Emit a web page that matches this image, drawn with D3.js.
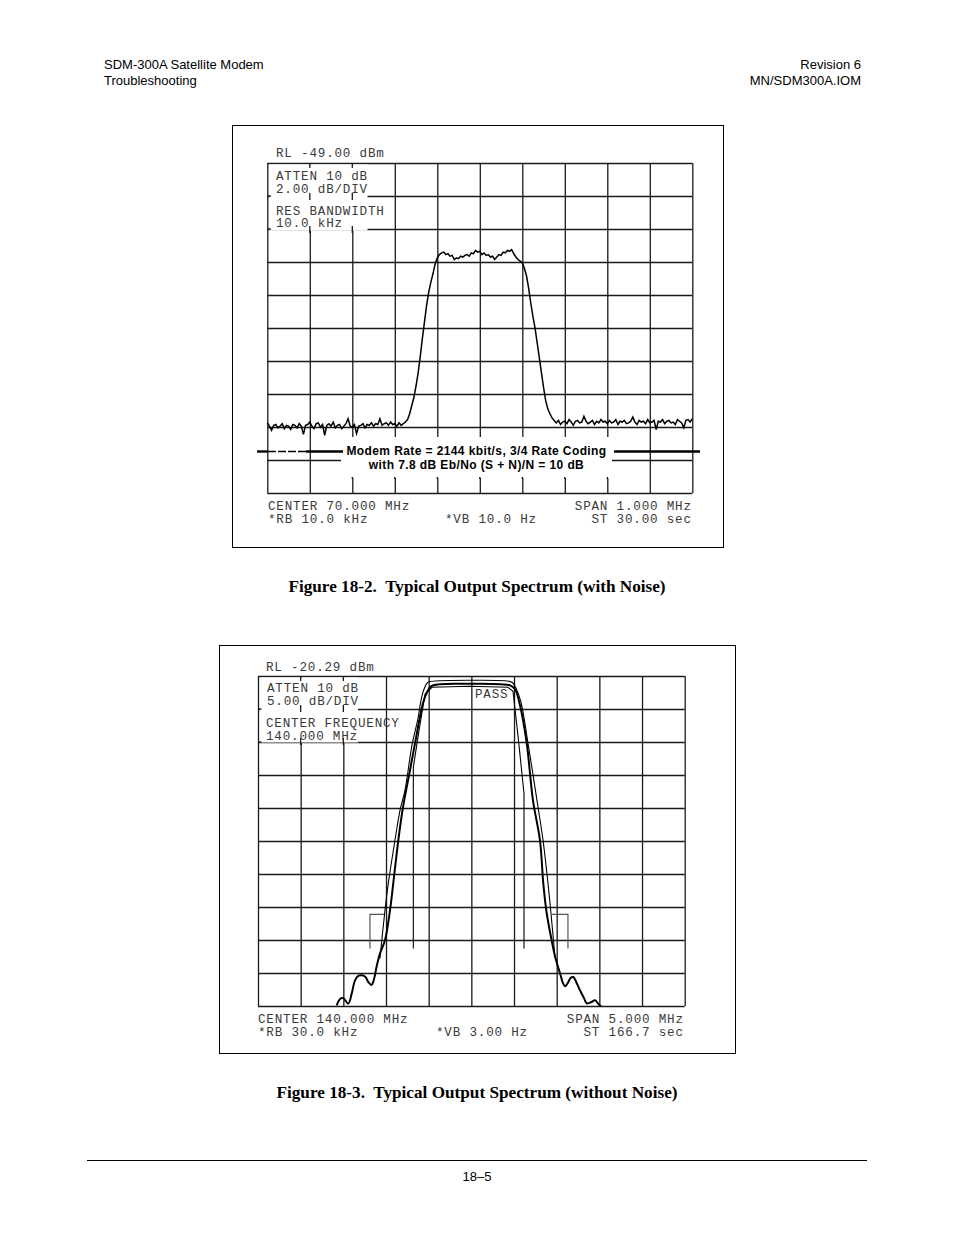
<!DOCTYPE html>
<html>
<head>
<meta charset="utf-8">
<script src="https://cdn.jsdelivr.net/npm/d3@7"></script>
<style>
  body { margin: 0; background: #fff; }
  svg { display: block; }
  .mono { font-family: "Liberation Mono", "Courier New", monospace; font-size: 12.6px; letter-spacing: 0.8px; fill: #3a3a3a; }
  .sans { font-family: "Liberation Sans", Arial, sans-serif; fill: #000; }
  .serif { font-family: "Liberation Serif", "Times New Roman", serif; font-weight: bold; fill: #000; }
</style>
</head>
<body>
<svg id="page" width="954" height="1235"></svg>
<script>
/***************************************************************
 * DATA
 ***************************************************************/
// Figure 18-2: analyzer sweep, 69.5 .. 70.5 MHz, 5 kHz per point, level in dBm
const fig2Center = 70.0;
const fig2Span = 1.0;
const fig2RefLevel = -49.0;
const fig2DbPerDiv = 2.0;
const fig2Level = [
  -64.75, -64.95, -65.20, -64.90, -64.85, -65.05, -64.95, -64.80, -65.10, -64.90,
  -64.95, -65.15, -64.85, -64.90, -65.05, -64.80, -64.95, -65.45, -64.90, -64.85,
  -64.70, -64.95, -65.10, -64.80, -64.75, -65.00, -64.85, -65.50, -64.90, -64.80,
  -64.95, -64.70, -65.05, -64.90, -64.85, -65.10, -64.95, -64.80, -64.50, -64.95,
  -65.00, -64.85, -65.40, -64.95, -64.90, -64.80, -65.05, -64.85, -64.90, -64.75,
  -64.95, -64.80, -64.85, -64.50, -64.90, -64.80, -64.75, -64.90, -64.70, -64.85,
  -64.80, -64.95, -64.75, -64.90,
  // rising edge
  -64.80, -64.70, -64.55, -64.20, -63.70, -63.20, -62.50, -61.70, -60.70, -59.60,
  -58.60, -57.60, -56.80, -56.20, -55.70, -55.10, -54.75, -54.55,
  // top
  -54.45, -54.40, -54.55, -54.50, -54.65, -54.60, -54.85, -54.75, -54.80, -54.65, -54.70,
  -54.60, -54.55, -54.65, -54.45, -54.50, -54.30, -54.40,
  -54.35, -54.55, -54.45, -54.60, -54.55, -54.70, -54.65, -54.85,
  -54.70, -54.55, -54.60, -54.40, -54.45, -54.30, -54.35, -54.25,
  -54.50, -54.70,
  // falling edge
  -54.85, -54.95, -55.05, -55.40, -55.85, -56.60, -57.50, -58.30, -59.00, -59.90,
  -60.80, -61.70, -62.60, -63.40, -63.90, -64.20, -64.45, -64.60,
  // noise floor
  -64.75, -64.60, -64.85, -64.70, -64.65, -64.80, -64.55, -64.70, -64.90, -64.65,
  -64.60, -64.75, -64.70, -64.35, -64.65, -64.80, -64.70, -64.60, -64.85, -64.65,
  -64.75, -64.55, -64.70, -64.65, -64.80, -64.60, -64.75, -64.70, -64.55, -64.85,
  -64.65, -64.70, -64.60, -64.80, -64.75, -64.65, -64.40, -64.70, -64.85, -64.60,
  -64.70, -64.65, -64.80, -64.55, -64.75, -64.70, -64.60, -65.15, -64.65, -64.70,
  -64.55, -64.80, -64.65, -64.60, -64.75, -64.70, -64.85, -64.55, -64.65, -64.75,
  -65.05, -64.60, -64.55, -64.70, -64.50
];
const fig2Freq = fig2Level.map((_, i) => fig2Center - fig2Span / 2 + i * 0.005);

const fig2TopLabels = ["ATTEN 10 dB", "2.00 dB/DIV", "RES BANDWIDTH", "10.0 kHz"];
const fig2Legend = ["Modem Rate = 2144 kbit/s, 3/4 Rate Coding", "with 7.8 dB Eb/No (S + N)/N = 10 dB"];
const fig2Bottom = ["CENTER 70.000 MHz", "*RB 10.0 kHz", "*VB 10.0 Hz", "SPAN 1.000 MHz", "ST 30.00 sec"];

// Figure 18-3: offsets from 140 MHz (MHz) and level (dBm)
const fig3RefLevel = -20.29;
const fig3DbPerDiv = 5.0;
const fig3Span = 5.0;
const mainTrace = [
  [-1.578, -70.18], [-1.536, -69.20], [-1.500, -69.10], [-1.442, -69.93], [-1.400, -68.30],
  [-1.363, -66.40], [-1.320, -65.70], [-1.278, -65.64], [-1.240, -65.90], [-1.205, -66.70],
  [-1.170, -67.10], [-1.140, -66.20], [-1.110, -64.30], [-1.071, -62.35], [-1.012, -60.34],
  [-0.953, -55.79], [-0.915, -51.70], [-0.856, -45.18], [-0.801, -40.18], [-0.719, -34.58],
  [-0.660, -30.49], [-0.567, -24.43], [-0.520, -22.76], [-0.473, -21.85], [-0.368, -21.55],
  [-0.133, -21.47], [0.101, -21.47], [0.336, -21.55], [0.453, -21.70], [0.512, -22.30],
  [0.570, -24.73], [0.649, -30.49], [0.722, -39.13], [0.804, -45.18], [0.843, -51.70],
  [0.883, -56.24], [0.941, -60.34], [0.980, -62.76], [1.039, -65.34], [1.070, -66.70],
  [1.098, -67.30], [1.130, -66.80], [1.165, -66.00], [1.195, -65.90], [1.230, -66.70],
  [1.273, -67.91], [1.320, -69.10], [1.352, -69.88], [1.402, -69.73], [1.449, -69.43],
  [1.490, -70.00], [1.527, -70.44]
];
const outerTrace = [
  [-1.071, -63.08], [-1.012, -55.79], [-0.973, -51.70], [-0.895, -45.18], [-0.836, -40.64],
  [-0.778, -37.61], [-0.696, -30.79], [-0.625, -26.70], [-0.590, -23.97], [-0.555, -22.30],
  [-0.508, -21.24], [-0.368, -21.02], [-0.016, -20.94], [0.394, -21.02], [0.476, -21.24],
  [0.523, -22.15], [0.582, -24.27], [0.664, -30.49], [0.769, -39.13], [0.840, -45.18],
  [0.898, -51.70], [0.933, -56.24], [0.980, -62.91]
];
const innerTrace = [
  [-0.680, -61.56], [-0.680, -34.12], [-0.613, -28.52], [-0.543, -23.06], [-0.461, -22.00],
  [-0.016, -21.85], [0.429, -22.00], [0.488, -22.61], [0.546, -29.27], [0.617, -38.08],
  [0.617, -61.56]
];
const limitLeft = [[-1.188, -61.56], [-1.188, -56.40], [-1.012, -56.40]];
const limitRight = [[0.945, -56.40], [1.132, -56.40], [1.132, -61.56]];

const fig3TopLabels = ["ATTEN 10 dB", "5.00 dB/DIV", "CENTER FREQUENCY", "140.000 MHz"];
const fig3Bottom = ["CENTER 140.000 MHz", "*RB 30.0 kHz", "*VB 3.00 Hz", "SPAN 5.000 MHz", "ST 166.7 sec"];

const captions = ["Figure 18-2.  Typical Output Spectrum (with Noise)",
                  "Figure 18-3.  Typical Output Spectrum (without Noise)"];

/***************************************************************
 * HELPERS
 ***************************************************************/
const svg = d3.select("#page");

function drawGrid(g, x, y, xTicks, yTicks) {
  const [y0, y1] = y.range();
  const [x0, x1] = x.range();
  const gx = g.append("g")
    .attr("transform", `translate(0,${y0})`)
    .call(d3.axisBottom(x).tickValues(xTicks).tickSize(-(y0 - y1)).tickFormat("").tickSizeOuter(0));
  gx.select(".domain").remove();
  const gy = g.append("g")
    .attr("transform", `translate(${x0},0)`)
    .call(d3.axisLeft(y).tickValues(yTicks).tickSize(-(x1 - x0)).tickFormat("").tickSizeOuter(0));
  gy.select(".domain").remove();
  g.selectAll(".tick line").attr("stroke", "#1a1a1a").attr("stroke-width", 1.3);
}

function stub(g, x1, y1, x2, y2) {
  g.append("line").attr("x1", x1).attr("y1", y1).attr("x2", x2).attr("y2", y2)
    .attr("stroke", "#1a1a1a").attr("stroke-width", 1.3);
}

// letter-spacing trails the last glyph, so end-anchored text is nudged right
function monoText(g, str, x, y, anchor) {
  g.append("text").attr("class", "mono").attr("x", anchor === "end" ? x + 0.8 : x).attr("y", y)
    .attr("text-anchor", anchor || "start").style("white-space", "pre").text(str);
}

/***************************************************************
 * PAGE HEADER / FOOTER
 ***************************************************************/
const hdr = svg.append("g").attr("class", "sans").style("font-size", "13px");
hdr.append("text").attr("x", 104).attr("y", 68.5).text("SDM-300A Satellite Modem");
hdr.append("text").attr("x", 104).attr("y", 85).text("Troubleshooting");
hdr.append("text").attr("x", 861).attr("y", 68.5).attr("text-anchor", "end").text("Revision 6");
hdr.append("text").attr("x", 861).attr("y", 85).attr("text-anchor", "end").text("MN/SDM300A.IOM");

svg.append("line").attr("x1", 87).attr("x2", 867).attr("y1", 1160.5).attr("y2", 1160.5)
  .attr("stroke", "#000").attr("stroke-width", 1);
svg.append("text").attr("class", "sans").style("font-size", "13px")
  .attr("x", 477).attr("y", 1180.5).attr("text-anchor", "middle").text("18–5");

/***************************************************************
 * FIGURE 18-2
 ***************************************************************/
const f2 = svg.append("g");
f2.append("rect").attr("x", 232.5).attr("y", 125.5).attr("width", 491).attr("height", 422)
  .attr("fill", "none").attr("stroke", "#000").attr("stroke-width", 1);

const x2 = d3.scaleLinear().domain([fig2Center - fig2Span / 2, fig2Center + fig2Span / 2]).range([267.3, 692.3]);
const y2 = d3.scaleLinear().domain([fig2RefLevel - 10 * fig2DbPerDiv, fig2RefLevel]).range([493, 163]);

drawGrid(f2, x2, y2,
  d3.range(11).map(i => x2.domain()[0] + i * fig2Span / 10),
  d3.range(11).map(i => y2.domain()[0] + i * fig2DbPerDiv));

// white boxes behind annotation text
f2.append("rect").attr("x", 269.5).attr("y", 164.5).attr("width", 98).attr("height", 66).attr("fill", "#fff");
f2.append("rect").attr("x", 341).attr("y", 437).attr("width", 271).attr("height", 41).attr("fill", "#fff");
// leftover tick stubs
[x2(69.6), x2(69.7)].forEach(px => {
  stub(f2, px, 163, px, 168);
  stub(f2, px, 193, px, 200);
  stub(f2, px, 226, px, 233);
});
[y2(-53), y2(-51)].forEach(py => stub(f2, 267.3, py, 271, py));
[69.7, 69.8, 69.9, 70.0, 70.1, 70.2, 70.3].forEach(f => {
  stub(f2, x2(f), 477, x2(f), 479);
});

const line2 = d3.line().x((d, i) => x2(fig2Freq[i])).y(d => y2(d)).curve(d3.curveLinear);
f2.append("path").datum(fig2Level).attr("d", line2)
  .attr("fill", "none").attr("stroke", "#000").attr("stroke-width", 1.5).attr("stroke-linejoin", "miter");

monoText(f2, "RL -49.00 dBm", 276, 157);
monoText(f2, fig2TopLabels[0], 276, 180);
monoText(f2, fig2TopLabels[1], 276, 192.5);
monoText(f2, fig2TopLabels[2], 276, 214.5);
monoText(f2, fig2TopLabels[3], 276, 227);
monoText(f2, fig2Bottom[0], 268, 510);
monoText(f2, fig2Bottom[1], 268, 523);
monoText(f2, fig2Bottom[2], 445, 523);
monoText(f2, fig2Bottom[3], 691, 510, "end");
monoText(f2, fig2Bottom[4], 691, 523, "end");

// legend key lines
const legY = 451.5;
f2.append("line").attr("x1", 257).attr("x2", 268).attr("y1", legY).attr("y2", legY)
  .attr("stroke", "#000").attr("stroke-width", 2.4);
f2.append("line").attr("x1", 268).attr("x2", 306).attr("y1", legY).attr("y2", legY)
  .attr("stroke", "#000").attr("stroke-width", 1.6).attr("stroke-dasharray", "8,2");
f2.append("line").attr("x1", 306).attr("x2", 343).attr("y1", legY).attr("y2", legY)
  .attr("stroke", "#000").attr("stroke-width", 2.6);
f2.append("line").attr("x1", 614).attr("x2", 700).attr("y1", legY).attr("y2", legY)
  .attr("stroke", "#000").attr("stroke-width", 2.6);
f2.selectAll(".legtxt").data(fig2Legend).join("text")
  .attr("class", "sans").style("font-size", "12px").style("font-weight", "bold")
  .style("letter-spacing", "0.4px")
  .attr("x", 476.5).attr("y", (d, i) => 455 + i * 13.5).attr("text-anchor", "middle").text(d => d);

svg.append("text").attr("class", "serif").style("font-size", "17.2px").style("white-space", "pre")
  .attr("x", 477).attr("y", 591.5).attr("text-anchor", "middle").text(captions[0]);

/***************************************************************
 * FIGURE 18-3
 ***************************************************************/
const f3 = svg.append("g");
f3.append("rect").attr("x", 219.5).attr("y", 645.5).attr("width", 516).attr("height", 408)
  .attr("fill", "none").attr("stroke", "#000").attr("stroke-width", 1);

const x3 = d3.scaleLinear().domain([-fig3Span / 2, fig3Span / 2]).range([258, 684.7]);
const y3 = d3.scaleLinear().domain([fig3RefLevel - 10 * fig3DbPerDiv, fig3RefLevel]).range([1006, 676]);

drawGrid(f3, x3, y3,
  d3.range(11).map(i => -fig3Span / 2 + i * fig3Span / 10),
  d3.range(11).map(i => y3.domain()[0] + i * fig3DbPerDiv));

f3.append("rect").attr("x", 260).attr("y", 677.5).attr("width", 98).attr("height", 65).attr("fill", "#fff");
[x3(-2.0), x3(-1.5)].forEach(px => {
  stub(f3, px, 676, px, 681);
  stub(f3, px, 705, px, 712);
  stub(f3, px, 738, px, 745);
});
[y3(-25.29), y3(-30.29)].forEach(py => stub(f3, 258, py, 261.5, py));

f3.append("clipPath").attr("id", "clip3").append("rect")
  .attr("x", 258).attr("y", 676).attr("width", 426.7).attr("height", 330.5);
const traces = f3.append("g").attr("clip-path", "url(#clip3)");
const line3 = d3.line().x(d => x3(d[0])).y(d => y3(d[1]));
const line3Smooth = d3.line().x(d => x3(d[0])).y(d => y3(d[1])).curve(d3.curveCatmullRom.alpha(0.5));

[limitLeft, limitRight].forEach(m => {
  traces.append("path").datum(m).attr("d", line3)
    .attr("fill", "none").attr("stroke", "#555").attr("stroke-width", 1.2);
});
traces.append("path").datum(innerTrace).attr("d", line3)
  .attr("fill", "none").attr("stroke", "#000").attr("stroke-width", 1.1);
traces.append("path").datum(outerTrace).attr("d", line3Smooth)
  .attr("fill", "none").attr("stroke", "#000").attr("stroke-width", 1.1);
traces.append("path").datum(mainTrace).attr("d", line3Smooth)
  .attr("fill", "none").attr("stroke", "#000").attr("stroke-width", 2);

monoText(f3, "RL -20.29 dBm", 266, 671);
monoText(f3, fig3TopLabels[0], 267, 692);
monoText(f3, fig3TopLabels[1], 267, 705);
monoText(f3, fig3TopLabels[2], 266, 727);
monoText(f3, fig3TopLabels[3], 266, 740);
monoText(f3, "PASS", 475, 698);
monoText(f3, fig3Bottom[0], 258, 1023);
monoText(f3, fig3Bottom[1], 258, 1036);
monoText(f3, fig3Bottom[2], 436, 1036);
monoText(f3, fig3Bottom[3], 683, 1023, "end");
monoText(f3, fig3Bottom[4], 683, 1036, "end");

svg.append("text").attr("class", "serif").style("font-size", "17.2px").style("white-space", "pre")
  .attr("x", 477).attr("y", 1097.5).attr("text-anchor", "middle").text(captions[1]);
</script>
</body>
</html>
